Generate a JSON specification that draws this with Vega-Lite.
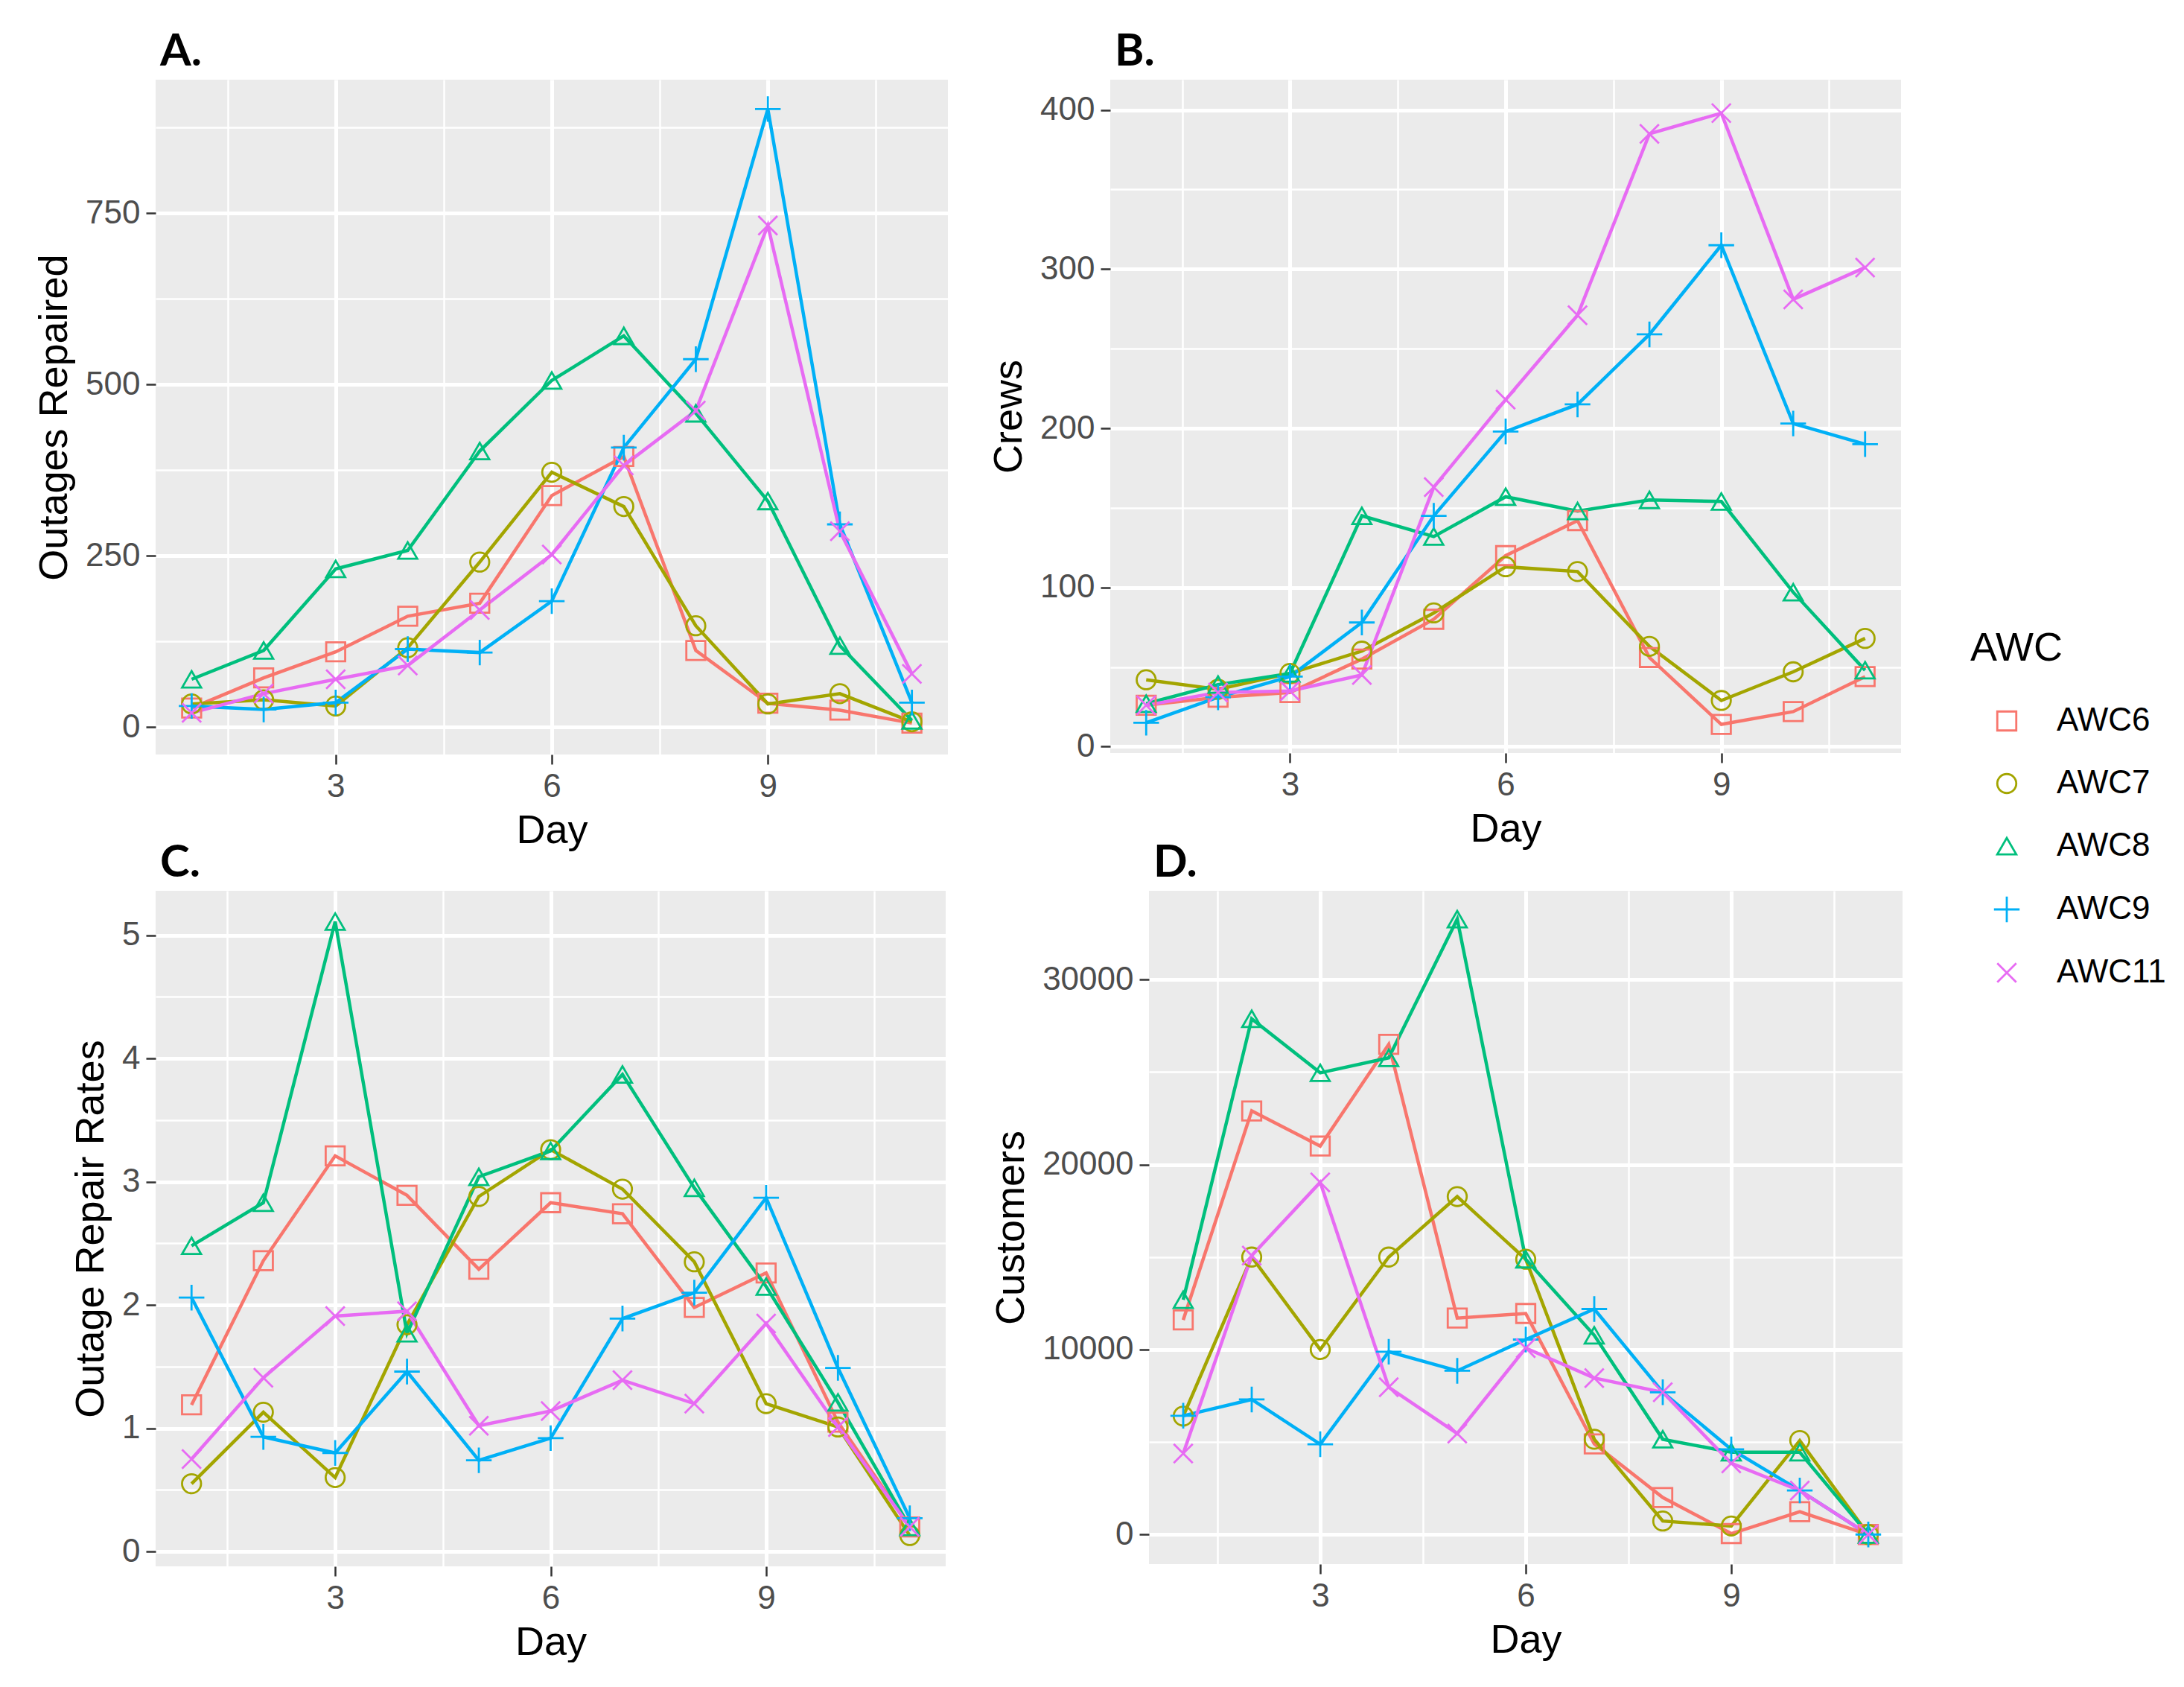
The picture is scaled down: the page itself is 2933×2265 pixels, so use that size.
{
  "$schema": "https://vega.github.io/schema/vega-lite/v6.json",
  "padding": {"left": 46, "top": 40, "right": 0, "bottom": 0},
  "background": "#FFFFFF",
  "data": {"values": [
    {"Day": 1, "AWC": "AWC6", "Outages": 28, "Crews": 26, "Rate": 1.19, "Customers": 11600},
    {"Day": 2, "AWC": "AWC6", "Outages": 72, "Crews": 31, "Rate": 2.36, "Customers": 22900},
    {"Day": 3, "AWC": "AWC6", "Outages": 110, "Crews": 34, "Rate": 3.21, "Customers": 21000},
    {"Day": 4, "AWC": "AWC6", "Outages": 162, "Crews": 55, "Rate": 2.89, "Customers": 26500},
    {"Day": 5, "AWC": "AWC6", "Outages": 181, "Crews": 80, "Rate": 2.29, "Customers": 11700},
    {"Day": 6, "AWC": "AWC6", "Outages": 338, "Crews": 120, "Rate": 2.83, "Customers": 11950},
    {"Day": 7, "AWC": "AWC6", "Outages": 395, "Crews": 142, "Rate": 2.74, "Customers": 4900},
    {"Day": 8, "AWC": "AWC6", "Outages": 112, "Crews": 56, "Rate": 1.98, "Customers": 2000},
    {"Day": 9, "AWC": "AWC6", "Outages": 35, "Crews": 14, "Rate": 2.26, "Customers": 50},
    {"Day": 10, "AWC": "AWC6", "Outages": 25, "Crews": 22, "Rate": 1.05, "Customers": 1230},
    {"Day": 11, "AWC": "AWC6", "Outages": 6, "Crews": 44, "Rate": 0.2, "Customers": 0},
    {"Day": 1, "AWC": "AWC7", "Outages": 34, "Crews": 42, "Rate": 0.55, "Customers": 6400},
    {"Day": 2, "AWC": "AWC7", "Outages": 40, "Crews": 36, "Rate": 1.13, "Customers": 15000},
    {"Day": 3, "AWC": "AWC7", "Outages": 31, "Crews": 46, "Rate": 0.6, "Customers": 10000},
    {"Day": 4, "AWC": "AWC7", "Outages": 116, "Crews": 60, "Rate": 1.84, "Customers": 15000},
    {"Day": 5, "AWC": "AWC7", "Outages": 241, "Crews": 84, "Rate": 2.88, "Customers": 18270},
    {"Day": 6, "AWC": "AWC7", "Outages": 372, "Crews": 113, "Rate": 3.26, "Customers": 14880},
    {"Day": 7, "AWC": "AWC7", "Outages": 322, "Crews": 110, "Rate": 2.94, "Customers": 5150},
    {"Day": 8, "AWC": "AWC7", "Outages": 148, "Crews": 63, "Rate": 2.35, "Customers": 730},
    {"Day": 9, "AWC": "AWC7", "Outages": 34, "Crews": 29, "Rate": 1.2, "Customers": 460},
    {"Day": 10, "AWC": "AWC7", "Outages": 49, "Crews": 47, "Rate": 1.01, "Customers": 5080},
    {"Day": 11, "AWC": "AWC7", "Outages": 8, "Crews": 68, "Rate": 0.13, "Customers": 0},
    {"Day": 1, "AWC": "AWC8", "Outages": 70, "Crews": 27, "Rate": 2.48, "Customers": 12690},
    {"Day": 2, "AWC": "AWC8", "Outages": 112, "Crews": 39, "Rate": 2.83, "Customers": 27880},
    {"Day": 3, "AWC": "AWC8", "Outages": 231, "Crews": 46, "Rate": 5.11, "Customers": 24960},
    {"Day": 4, "AWC": "AWC8", "Outages": 258, "Crews": 145, "Rate": 1.77, "Customers": 25770},
    {"Day": 5, "AWC": "AWC8", "Outages": 403, "Crews": 132, "Rate": 3.04, "Customers": 33270},
    {"Day": 6, "AWC": "AWC8", "Outages": 506, "Crews": 157, "Rate": 3.25, "Customers": 14880},
    {"Day": 7, "AWC": "AWC8", "Outages": 571, "Crews": 148, "Rate": 3.87, "Customers": 10770},
    {"Day": 8, "AWC": "AWC8", "Outages": 458, "Crews": 155, "Rate": 2.95, "Customers": 5150},
    {"Day": 9, "AWC": "AWC8", "Outages": 330, "Crews": 154, "Rate": 2.15, "Customers": 4450},
    {"Day": 10, "AWC": "AWC8", "Outages": 119, "Crews": 97, "Rate": 1.21, "Customers": 4450},
    {"Day": 11, "AWC": "AWC8", "Outages": 10, "Crews": 48, "Rate": 0.2, "Customers": 0},
    {"Day": 1, "AWC": "AWC9", "Outages": 31, "Crews": 15, "Rate": 2.06, "Customers": 6420},
    {"Day": 2, "AWC": "AWC9", "Outages": 26, "Crews": 31, "Rate": 0.93, "Customers": 7300},
    {"Day": 3, "AWC": "AWC9", "Outages": 36, "Crews": 44, "Rate": 0.8, "Customers": 4880},
    {"Day": 4, "AWC": "AWC9", "Outages": 114, "Crews": 78, "Rate": 1.46, "Customers": 9880},
    {"Day": 5, "AWC": "AWC9", "Outages": 109, "Crews": 145, "Rate": 0.74, "Customers": 8850},
    {"Day": 6, "AWC": "AWC9", "Outages": 184, "Crews": 198, "Rate": 0.92, "Customers": 10540},
    {"Day": 7, "AWC": "AWC9", "Outages": 408, "Crews": 215, "Rate": 1.89, "Customers": 12190},
    {"Day": 8, "AWC": "AWC9", "Outages": 537, "Crews": 259, "Rate": 2.1, "Customers": 7690},
    {"Day": 9, "AWC": "AWC9", "Outages": 902, "Crews": 315, "Rate": 2.87, "Customers": 4600},
    {"Day": 10, "AWC": "AWC9", "Outages": 296, "Crews": 203, "Rate": 1.49, "Customers": 2380},
    {"Day": 11, "AWC": "AWC9", "Outages": 36, "Crews": 190, "Rate": 0.27, "Customers": 0},
    {"Day": 1, "AWC": "AWC11", "Outages": 21, "Crews": 26, "Rate": 0.75, "Customers": 4380},
    {"Day": 2, "AWC": "AWC11", "Outages": 49, "Crews": 34, "Rate": 1.41, "Customers": 15080},
    {"Day": 3, "AWC": "AWC11", "Outages": 70, "Crews": 35, "Rate": 1.91, "Customers": 19040},
    {"Day": 4, "AWC": "AWC11", "Outages": 90, "Crews": 45, "Rate": 1.95, "Customers": 7960},
    {"Day": 5, "AWC": "AWC11", "Outages": 171, "Crews": 163, "Rate": 1.02, "Customers": 5460},
    {"Day": 6, "AWC": "AWC11", "Outages": 252, "Crews": 218, "Rate": 1.14, "Customers": 10080},
    {"Day": 7, "AWC": "AWC11", "Outages": 382, "Crews": 271, "Rate": 1.39, "Customers": 8460},
    {"Day": 8, "AWC": "AWC11", "Outages": 462, "Crews": 385, "Rate": 1.2, "Customers": 7690},
    {"Day": 9, "AWC": "AWC11", "Outages": 732, "Crews": 398, "Rate": 1.85, "Customers": 3850},
    {"Day": 10, "AWC": "AWC11", "Outages": 286, "Crews": 281, "Rate": 1.01, "Customers": 2380},
    {"Day": 11, "AWC": "AWC11", "Outages": 78, "Crews": 301, "Rate": 0.2, "Customers": 0}
  ]},
  "vconcat": [
    {
      "spacing": 55,
      "hconcat": [
        {
          "width": 1064, "height": 906,
          "title": {"text": "A."},
          "encoding": {
            "x": {"field": "Day", "type": "quantitative", "title": "Day",
              "scale": {"domain": [0.5, 11.5], "nice": false, "zero": false},
              "axis": {"values": [1.5, 3, 4.5, 6, 7.5, 9, 10.5],
                "labelExpr": "datum.value % 3 === 0 ? datum.label : ''",
                "tickOpacity": {"condition": {"test": "datum.value % 3 === 0", "value": 1}, "value": 0},
                "gridWidth": {"condition": {"test": "datum.value % 3 === 0", "value": 5}, "value": 2.5}}},
            "y": {"field": "Outages", "type": "quantitative", "title": "Outages Repaired",
              "scale": {"domain": [-39.75, 944.75], "nice": false, "zero": false},
              "axis": {"values": [0, 125, 250, 375, 500, 625, 750, 875],
                "labelExpr": "datum.value % 250 === 0 ? datum.label : ''",
                "tickOpacity": {"condition": {"test": "datum.value % 250 === 0", "value": 1}, "value": 0},
                "gridWidth": {"condition": {"test": "datum.value % 250 === 0", "value": 5}, "value": 2.5}}},
            "color": {"field": "AWC", "type": "nominal", "title": "AWC",
              "scale": {"domain": ["AWC6", "AWC7", "AWC8", "AWC9", "AWC11"], "range": ["#F8766D", "#A3A500", "#00BF7D", "#00B0F6", "#E76BF3"]}}
          },
          "layer": [
            {"mark": {"type": "line", "strokeWidth": 4.5}},
            {"mark": {"type": "point", "filled": false, "strokeWidth": 2.8, "size": 650, "opacity": 1},
             "encoding": {"shape": {"field": "AWC", "type": "nominal", "title": "AWC",
               "scale": {"domain": ["AWC6", "AWC7", "AWC8", "AWC9", "AWC11"], "range": ["square", "circle", "triangle-up", "M-1.35,0L1.35,0M0,-1.35L0,1.35", "M-1,-1L1,1M-1,1L1,-1"]}}}}
          ]
        },
        {
          "width": 1062, "height": 904,
          "title": {"text": "B."},
          "encoding": {
            "x": {"field": "Day", "type": "quantitative", "title": "Day",
              "scale": {"domain": [0.5, 11.5], "nice": false, "zero": false},
              "axis": {"values": [1.5, 3, 4.5, 6, 7.5, 9, 10.5],
                "labelExpr": "datum.value % 3 === 0 ? datum.label : ''",
                "tickOpacity": {"condition": {"test": "datum.value % 3 === 0", "value": 1}, "value": 0},
                "gridWidth": {"condition": {"test": "datum.value % 3 === 0", "value": 5}, "value": 2.5}}},
            "y": {"field": "Crews", "type": "quantitative", "title": "Crews",
              "scale": {"domain": [-4, 419], "nice": false, "zero": false},
              "axis": {"values": [0, 50, 100, 150, 200, 250, 300, 350, 400],
                "labelExpr": "datum.value % 100 === 0 ? datum.label : ''",
                "tickOpacity": {"condition": {"test": "datum.value % 100 === 0", "value": 1}, "value": 0},
                "gridWidth": {"condition": {"test": "datum.value % 100 === 0", "value": 5}, "value": 2.5}}},
            "color": {"field": "AWC", "type": "nominal", "title": "AWC",
              "scale": {"domain": ["AWC6", "AWC7", "AWC8", "AWC9", "AWC11"], "range": ["#F8766D", "#A3A500", "#00BF7D", "#00B0F6", "#E76BF3"]}}
          },
          "layer": [
            {"mark": {"type": "line", "strokeWidth": 4.5}},
            {"mark": {"type": "point", "filled": false, "strokeWidth": 2.8, "size": 650, "opacity": 1},
             "encoding": {"shape": {"field": "AWC", "type": "nominal", "title": "AWC",
               "scale": {"domain": ["AWC6", "AWC7", "AWC8", "AWC9", "AWC11"], "range": ["square", "circle", "triangle-up", "M-1.35,0L1.35,0M0,-1.35L0,1.35", "M-1,-1L1,1M-1,1L1,-1"]}}}}
          ]
        }
      ]
    },
    {
      "spacing": 61,
      "hconcat": [
        {
          "width": 1061, "height": 907,
          "title": {"text": "C."},
          "encoding": {
            "x": {"field": "Day", "type": "quantitative", "title": "Day",
              "scale": {"domain": [0.5, 11.5], "nice": false, "zero": false},
              "axis": {"values": [1.5, 3, 4.5, 6, 7.5, 9, 10.5],
                "labelExpr": "datum.value % 3 === 0 ? datum.label : ''",
                "tickOpacity": {"condition": {"test": "datum.value % 3 === 0", "value": 1}, "value": 0},
                "gridWidth": {"condition": {"test": "datum.value % 3 === 0", "value": 5}, "value": 2.5}}},
            "y": {"field": "Rate", "type": "quantitative", "title": "Outage Repair Rates",
              "scale": {"domain": [-0.12, 5.36], "nice": false, "zero": false},
              "axis": {"values": [0, 0.5, 1, 1.5, 2, 2.5, 3, 3.5, 4, 4.5, 5], "format": "~g",
                "labelExpr": "datum.value % 1 === 0 ? datum.label : ''",
                "tickOpacity": {"condition": {"test": "datum.value % 1 === 0", "value": 1}, "value": 0},
                "gridWidth": {"condition": {"test": "datum.value % 1 === 0", "value": 5}, "value": 2.5}}},
            "color": {"field": "AWC", "type": "nominal", "title": "AWC",
              "scale": {"domain": ["AWC6", "AWC7", "AWC8", "AWC9", "AWC11"], "range": ["#F8766D", "#A3A500", "#00BF7D", "#00B0F6", "#E76BF3"]}}
          },
          "layer": [
            {"mark": {"type": "line", "strokeWidth": 4.5}},
            {"mark": {"type": "point", "filled": false, "strokeWidth": 2.8, "size": 650, "opacity": 1},
             "encoding": {"shape": {"field": "AWC", "type": "nominal", "title": "AWC",
               "scale": {"domain": ["AWC6", "AWC7", "AWC8", "AWC9", "AWC11"], "range": ["square", "circle", "triangle-up", "M-1.35,0L1.35,0M0,-1.35L0,1.35", "M-1,-1L1,1M-1,1L1,-1"]}}}}
          ]
        },
        {
          "width": 1012, "height": 904,
          "title": {"text": "D."},
          "encoding": {
            "x": {"field": "Day", "type": "quantitative", "title": "Day",
              "scale": {"domain": [0.5, 11.5], "nice": false, "zero": false},
              "axis": {"values": [1.5, 3, 4.5, 6, 7.5, 9, 10.5],
                "labelExpr": "datum.value % 3 === 0 ? datum.label : ''",
                "tickOpacity": {"condition": {"test": "datum.value % 3 === 0", "value": 1}, "value": 0},
                "gridWidth": {"condition": {"test": "datum.value % 3 === 0", "value": 5}, "value": 2.5}}},
            "y": {"field": "Customers", "type": "quantitative", "title": "Customers",
              "scale": {"domain": [-1600, 34800], "nice": false, "zero": false},
              "axis": {"values": [0, 5000, 10000, 15000, 20000, 25000, 30000], "format": "d",
                "labelExpr": "datum.value % 10000 === 0 ? datum.label : ''",
                "tickOpacity": {"condition": {"test": "datum.value % 10000 === 0", "value": 1}, "value": 0},
                "gridWidth": {"condition": {"test": "datum.value % 10000 === 0", "value": 5}, "value": 2.5}}},
            "color": {"field": "AWC", "type": "nominal", "title": "AWC",
              "scale": {"domain": ["AWC6", "AWC7", "AWC8", "AWC9", "AWC11"], "range": ["#F8766D", "#A3A500", "#00BF7D", "#00B0F6", "#E76BF3"]}}
          },
          "layer": [
            {"mark": {"type": "line", "strokeWidth": 4.5}},
            {"mark": {"type": "point", "filled": false, "strokeWidth": 2.8, "size": 650, "opacity": 1},
             "encoding": {"shape": {"field": "AWC", "type": "nominal", "title": "AWC",
               "scale": {"domain": ["AWC6", "AWC7", "AWC8", "AWC9", "AWC11"], "range": ["square", "circle", "triangle-up", "M-1.35,0L1.35,0M0,-1.35L0,1.35", "M-1,-1L1,1M-1,1L1,-1"]}}}}
          ]
        }
      ]
    }
  ],
  "spacing": -13,
  "config": {
    "view": {"fill": "#EBEBEB", "stroke": null},
    "title": {"font": "Lato", "fontSize": 60, "fontWeight": "bold", "color": "#000000", "anchor": "start", "frame": "group", "offset": 6, "dx": 6},
    "axis": {
      "domain": false,
      "labelFont": "Liberation Sans", "labelFontSize": 44, "labelColor": "#4D4D4D", "labelPadding": 8,
      "titleFont": "Liberation Sans", "titleFontSize": 54, "titleFontWeight": "normal", "titleColor": "#000000",
      "tickColor": "#333333", "tickWidth": 2.5, "tickSize": 13,
      "gridColor": "#FFFFFF"
    },
    "axisX": {"titlePadding": 10, "labelFlush": false},
    "axisY": {"titlePadding": 14},
    "legend": {
      "orient": "none", "legendX": 2437, "legendY": 737, "padding": 0,
      "titleFont": "Liberation Sans", "titleFontSize": 54, "titleFontWeight": "normal", "titleColor": "#000000", "titlePadding": 48,
      "labelFont": "Liberation Sans", "labelFontSize": 44, "labelColor": "#000000",
      "symbolSize": 650, "symbolStrokeWidth": 2.8, "symbolOffset": 27, "labelOffset": 45, "rowPadding": 40
    }
  }
}
